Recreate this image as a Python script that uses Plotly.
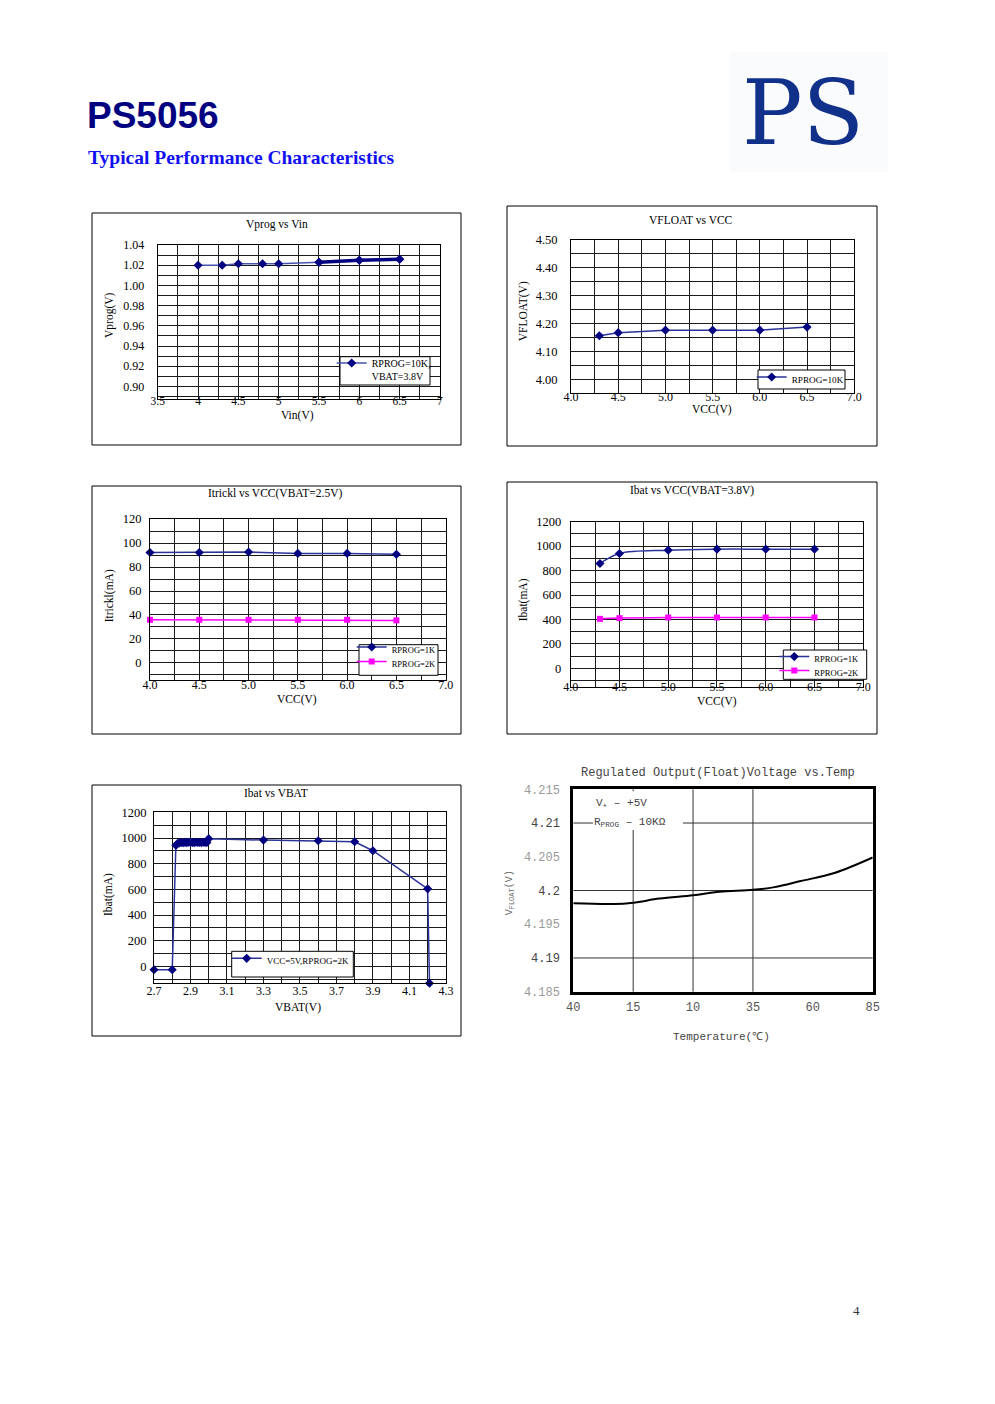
import plotly.graph_objects as go

# The page body has an 8px margin, so every page position is shifted by it.
OFF = 8
W, H = 995, 1404


def fx(p):
    return (p - OFF) / W


def fy(p):
    return 1 - (p - OFF) / H


SERIF = "Liberation Serif, Times New Roman, serif"
MONO = "Liberation Mono, DejaVu Sans Mono, monospace"
NAVY = "#000080"
NAVY_LINE = "#2b3399"
MAGENTA = "#ff00ff"

# ---------------- data ----------------
# Chart 1: Vprog vs Vin
vin = [4.0, 4.3, 4.5, 4.8, 5.0, 5.5, 6.0, 6.5]
vprog = [1.020, 1.020, 1.0215, 1.0215, 1.0215, 1.023, 1.025, 1.026]

# Chart 2: VFLOAT vs VCC
vcc_float = [4.3, 4.5, 5.0, 5.5, 6.0, 6.5]
vfloat = [4.156, 4.167, 4.176, 4.176, 4.176, 4.187]

# Chart 3: Itrickl vs VCC (VBAT=2.5V)
vcc_trickle = [4.0, 4.5, 5.0, 5.5, 6.0, 6.5]
itrickle_1k = [92.2, 92.2, 92.5, 91.4, 91.4, 90.6]
itrickle_2k = [36.0, 36.0, 36.0, 36.0, 36.0, 35.5]

# Chart 4: Ibat vs VCC (VBAT=3.8V)
vcc_ibat = [4.3, 4.5, 5.0, 5.5, 6.0, 6.5]
ibat_1k = [858, 940, 967, 975, 975, 975]
ibat_2k = [405, 411, 416, 416, 416, 416]

# Chart 5: Ibat vs VBAT
vbat = [2.70, 2.80, 2.82, 2.83, 2.84, 2.85, 2.86, 2.87, 2.88, 2.89, 2.90,
        2.91, 2.92, 2.93, 2.94, 2.95, 2.96, 2.97, 2.98, 2.99, 3.00, 3.30,
        3.60, 3.80, 3.90, 4.20, 4.21]
ibat_vbat = [-26, -26, 943, 958, 962, 965, 963, 966, 964, 967, 965,
             966, 964, 967, 965, 966, 964, 967, 965, 966, 995, 984,
             979, 971, 901, 604, -132]

# Chart 6: Regulated output (float) voltage vs temperature
temp = [-40, -23, -15, -4, 10, 21, 35, 44, 55, 69, 85]
vfloat_temp = [4.1981, 4.1980, 4.1982, 4.1988, 4.1993, 4.1998, 4.2001,
               4.2005, 4.2014, 4.2026, 4.2049]
temp_ticks = [-40, -15, 10, 35, 60, 85]
temp_ticktext = ["40", "15", "10", "35", "60", "85"]
temp_grid = [-15, 10, 35]
vf_ticks = [4.185, 4.19, 4.195, 4.2, 4.205, 4.21, 4.215]
vf_ticktext = ["4.185", "4.19", "4.195", "4.2", "4.205", "4.21", "4.215"]
vf_tickcolor = ["#9a9a9a", "#444", "#9a9a9a", "#444", "#9a9a9a", "#444", "#9a9a9a"]
vf_grid = [4.19, 4.2, 4.21]

fig = go.Figure()

# ---------------- traces ----------------
fig.add_trace(go.Scatter(
    x=vin, y=vprog, xaxis="x", yaxis="y", mode="lines+markers",
    name="RPROG=10K,<br>VBAT=3.8V", legend="legend",
    line=dict(color="#4a52b0", width=1.5),
    marker=dict(symbol="diamond", size=7, color=NAVY), cliponaxis=False))
fig.add_trace(go.Scatter(
    x=vin[5:], y=vprog[5:], xaxis="x", yaxis="y", mode="lines+markers",
    showlegend=False, line=dict(color=NAVY, width=3.5),
    marker=dict(symbol="diamond", size=7, color=NAVY), cliponaxis=False))

fig.add_trace(go.Scatter(
    x=vcc_float, y=vfloat, xaxis="x2", yaxis="y2", mode="lines+markers",
    name="RPROG=10K", legend="legend2",
    line=dict(color=NAVY_LINE, width=1.5),
    marker=dict(symbol="diamond", size=7, color=NAVY), cliponaxis=False))

fig.add_trace(go.Scatter(
    x=vcc_trickle, y=itrickle_1k, xaxis="x3", yaxis="y3", mode="lines+markers",
    name="RPROG=1K", legend="legend3",
    line=dict(color=NAVY_LINE, width=1.5),
    marker=dict(symbol="diamond", size=7, color=NAVY), cliponaxis=False))
fig.add_trace(go.Scatter(
    x=vcc_trickle, y=itrickle_2k, xaxis="x3", yaxis="y3", mode="lines+markers",
    name="RPROG=2K", legend="legend6",
    line=dict(color=MAGENTA, width=1.5),
    marker=dict(symbol="square", size=6, color=MAGENTA), cliponaxis=False))

fig.add_trace(go.Scatter(
    x=vcc_ibat, y=ibat_1k, xaxis="x4", yaxis="y4", mode="lines+markers",
    name="RPROG=1K", legend="legend4",
    line=dict(color=NAVY_LINE, width=1.5, shape="spline"),
    marker=dict(symbol="diamond", size=7, color=NAVY), cliponaxis=False))
fig.add_trace(go.Scatter(
    x=vcc_ibat, y=ibat_2k, xaxis="x4", yaxis="y4", mode="lines+markers",
    name="RPROG=2K", legend="legend7",
    line=dict(color=MAGENTA, width=1.5, shape="spline"),
    marker=dict(symbol="square", size=6, color=MAGENTA), cliponaxis=False))

fig.add_trace(go.Scatter(
    x=vbat, y=ibat_vbat, xaxis="x5", yaxis="y5", mode="lines+markers",
    name="VCC=5V,RPROG=2K", legend="legend5",
    line=dict(color=NAVY_LINE, width=1.5),
    marker=dict(symbol="diamond", size=7, color=NAVY), cliponaxis=False))

fig.add_trace(go.Scatter(
    x=temp, y=vfloat_temp, xaxis="x6", yaxis="y6", mode="lines",
    showlegend=False, line=dict(color="black", width=2, shape="spline")))

# ---------------- axes ----------------
GRID = "#1a1a1a"


def xax(l, r, anchor, rng, tick0, dtick, minor, fmt, size, standoff):
    return dict(domain=[fx(l), fx(r)], anchor=anchor, range=rng,
                tick0=tick0, dtick=dtick, tickformat=fmt,
                showline=True, mirror=True, linecolor="black", linewidth=1,
                showgrid=True, gridcolor=GRID, gridwidth=1, zeroline=False,
                ticks="", ticklabelstandoff=standoff,
                tickfont=dict(family=SERIF, size=size, color="black"),
                minor=dict(tick0=tick0, dtick=minor, showgrid=True,
                           gridcolor=GRID, gridwidth=1, ticks=""))


def yax(top, bottom, anchor, rng, tick0, dtick, minor, fmt, size, standoff):
    return dict(domain=[fy(bottom), fy(top)], anchor=anchor, range=rng,
                tick0=tick0, dtick=dtick, tickformat=fmt,
                showline=True, mirror=True, linecolor="black", linewidth=1,
                showgrid=True, gridcolor=GRID, gridwidth=1, zeroline=False,
                ticks="", ticklabelstandoff=standoff,
                tickfont=dict(family=SERIF, size=size, color="black"),
                minor=dict(tick0=tick0, dtick=minor, showgrid=True,
                           gridcolor=GRID, gridwidth=1, ticks=""))


layout_axes = dict(
    xaxis=xax(157.7, 440, "y", [3.5, 7.0005], 3.5, 0.5, 0.25, "", 11.5, -9),
    yaxis=yax(245, 399, "x", [0.8875, 1.0401], 0.9, 0.02, 0.01, ".2f", 12, 10),
    xaxis2=xax(571, 854.3, "y2", [4.0, 7.0005], 4.0, 0.5, 0.25, ".1f", 12, -8),
    yaxis2=yax(239.5, 393.3, "x2", [3.95, 4.5005], 4.0, 0.1, 0.05, ".2f", 12.5, 10),
    xaxis3=xax(150, 445.7, "y3", [4.0, 7.0005], 4.0, 0.5, 0.25, ".1f", 12, -6),
    yaxis3=yax(519, 679.7, "x3", [-14, 120.1], 0, 20, 10, "", 12.5, 5),
    xaxis4=xax(570.7, 863.3, "y4", [4.0, 7.0005], 4.0, 0.5, 0.25, ".1f", 12, -11),
    yaxis4=yax(521.6, 686.7, "x4", [-150, 1200.5], 0, 200, 100, "", 12.5, 6),
    xaxis5=xax(154, 446, "y5", [2.7, 4.3005], 2.7, 0.2, 0.1, ".1f", 12, -4),
    yaxis5=yax(812.3, 983.3, "x5", [-132, 1200.5], 0, 200, 100, "", 12.5, 4),
    xaxis6=dict(domain=[fx(573.3), fx(872.7)], anchor="y6", range=[-40, 85],
                tickmode="array", tickvals=temp_ticks, ticktext=temp_ticktext,
                showline=True, mirror=True, linecolor="black", linewidth=3,
                showgrid=False, zeroline=False, ticks="", ticklabelstandoff=2,
                tickfont=dict(family=MONO, size=12, color="#555")),
    yaxis6=dict(domain=[fy(991.7), fy(789.3)], anchor="x6", range=[4.185, 4.215],
                tickmode="array", tickvals=vf_ticks,
                ticktext=[f'<span style="color:{c}">{t}</span>'
                          for t, c in zip(vf_ticktext, vf_tickcolor)],
                showline=True, mirror=True, linecolor="black", linewidth=3,
                showgrid=False, zeroline=False, ticks="", ticklabelstandoff=8,
                tickfont=dict(family=MONO, size=12, color="#555")),
)

# ---------------- legends ----------------


def leg(x, y, size):
    return dict(x=fx(x), y=fy(y), xanchor="left", yanchor="top",
                bgcolor="rgba(0,0,0,0)", borderwidth=0, valign="top",
                font=dict(family=SERIF, size=size, color="black"),
                itemwidth=30, tracegroupgap=0)


legends = dict(
    legend=leg(331.7, 350, 10),
    legend2=leg(751.7, 364.5, 9.2),
    legend3=leg(351.7, 635, 8.5),
    legend6=leg(351.7, 649.5, 8.5),
    legend4=leg(774.3, 644.5, 8.6),
    legend7=leg(774.3, 658.5, 8.6),
    legend5=leg(226.7, 946, 9),
)

# ---------------- shapes ----------------
shapes = []
# outer frames of panels 1-5
for (x0, y0, x1, y1) in [(92, 213, 461, 445), (507, 206, 877, 446),
                         (92, 486, 461, 734), (507, 482, 877, 734),
                         (92, 785, 461, 1036)]:
    shapes.append(dict(type="rect", xref="paper", yref="paper",
                       x0=fx(x0), x1=fx(x1), y0=fy(y0), y1=fy(y1),
                       line=dict(color="black", width=1), layer="below"))
# legend boxes
for (x0, y0, x1, y1) in [(340, 356.7, 430, 385), (758, 370, 845, 389),
                         (359, 644.7, 438, 675.3), (783.3, 650, 866.7, 679.3),
                         (231.7, 951.3, 353.3, 977)]:
    shapes.append(dict(type="rect", xref="paper", yref="paper",
                       x0=fx(x0), x1=fx(x1), y0=fy(y0), y1=fy(y1),
                       fillcolor="white", line=dict(color="black", width=1),
                       layer="above"))
# logo background
shapes.append(dict(type="rect", xref="paper", yref="paper",
                   x0=fx(730), x1=fx(888), y0=fy(52), y1=fy(172),
                   fillcolor="#f9fbfd", line=dict(width=0), layer="below"))
# chart 6 grid lines
for t in temp_grid:
    shapes.append(dict(type="line", xref="x6", yref="y6 domain", x0=t, x1=t,
                       y0=0, y1=1, line=dict(color="#333", width=1),
                       layer="below"))
for v in vf_grid:
    shapes.append(dict(type="line", xref="x6 domain", yref="y6", x0=0, x1=1,
                       y0=v, y1=v, line=dict(color="#333", width=1),
                       layer="below"))
# white patch behind the chart-6 condition note
shapes.append(dict(type="rect", xref="paper", yref="paper",
                   x0=fx(593), x1=fx(683), y0=fy(791.2), y1=fy(830),
                   fillcolor="white", line=dict(width=0), layer="above"))

# ---------------- annotations ----------------
ann = []


def text(x, y, s, size=11.5, family=SERIF, color="black", angle=0,
         xanchor="center", **kw):
    ann.append(dict(x=fx(x), y=fy(y), xref="paper", yref="paper", text=s,
                    showarrow=False, xanchor=xanchor, yanchor="middle",
                    textangle=angle, font=dict(family=family, size=size,
                                               color=color), **kw))


# header
text(85, 116, "<b>PS5056</b>", size=37,
     family="Liberation Sans, Arial, sans-serif", color=NAVY, xanchor="left")
text(86, 158, "<b>Typical Performance Characteristics</b>", size=19.5,
     family=SERIF, color="#1010f0", xanchor="left")
text(803, 112, "PS", size=90, family="DejaVu Serif, Liberation Serif, serif",
     color="#10308a")
text(856, 1310, "4", size=13, family=SERIF, color="#333")

# chart 1
text(276.7, 225, "Vprog vs Vin")
text(297, 415.7, "Vin(V)")
text(110, 315, "Vprog(V)", angle=-90)
# chart 2
text(690.7, 220, "VFLOAT vs VCC")
text(711.7, 409.3, "VCC(V)")
text(523.3, 311, "VFLOAT(V)", angle=-90)
# chart 3
text(275.7, 493.7, "Itrickl vs VCC(VBAT=2.5V)")
text(296.7, 699, "VCC(V)")
text(109, 596.3, "Itrickl(mA)", angle=-90)
# chart 4
text(691.7, 490.7, "Ibat vs VCC(VBAT=3.8V)")
text(716.7, 701.7, "VCC(V)")
text(523.3, 600, "Ibat(mA)", angle=-90)
# chart 5
text(275.7, 792.7, "Ibat vs VBAT")
text(298.3, 1007, "VBAT(V)")
text(108.3, 894.7, "Ibat(mA)", angle=-90)
# chart 6
text(718.3, 773.3, "Regulated Output(Float)Voltage vs.Temp", size=12,
     family=MONO, color="#444")
text(721.7, 1036.7, "Temperature(℃)", size=11, family=MONO, color="#444")
text(510, 893.3, "V<sub>FLOAT</sub>(V)", size=10, family=MONO, color="#666",
     angle=-90)
text(594, 804, "V<sub>+</sub> – +5V", size=11, family=MONO, color="#444",
     xanchor="left")
text(592, 822, "R<sub>PROG</sub> – 10KΩ", size=11, family=MONO, color="#444",
     xanchor="left")

fig.update_layout(
    width=W, height=H,
    margin=dict(l=0, r=0, t=0, b=0, pad=0, autoexpand=False),
    paper_bgcolor="white", plot_bgcolor="white",
    showlegend=True, shapes=shapes, annotations=ann,
    **layout_axes, **legends)

fig.write_html("out.html")
